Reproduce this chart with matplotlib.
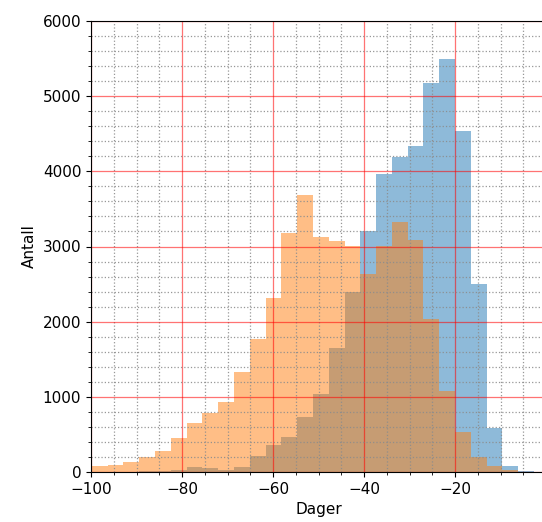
import numpy as np
import matplotlib
matplotlib.use("Agg")
import matplotlib.pyplot as plt
from matplotlib.ticker import MultipleLocator

# bin edges (shared)
bin_width = 3.47
bin_start = -99.8
n_bins = 28
edges = [bin_start + i * bin_width for i in range(n_bins + 1)]

blue_counts = [0, 0, 5, 10, 15, 25, 60, 50, 30, 60, 213, 360, 470, 735,
               1033, 1645, 2400, 3210, 3970, 4185, 4335, 5170, 5490, 4540,
               2495, 580, 80, 10]
orange_counts = [80, 90, 130, 200, 280, 453, 653, 787, 933, 1325, 1765,
                 2320, 3175, 3684, 3130, 3072, 3010, 2640, 3005, 3330, 3085,
                 2030, 1080, 537, 205, 80, 30, 0]

x_label = "Dager"
y_label = "Antall"

centers = [(edges[i] + edges[i + 1]) / 2 for i in range(n_bins)]

fig = plt.figure(figsize=(5.42, 5.22), dpi=100)
ax = fig.add_axes([91 / 542, 50 / 522, 455 / 542, 451 / 522])

ax.hist(centers, bins=edges, weights=blue_counts, alpha=0.5, color="C0")
ax.hist(centers, bins=edges, weights=orange_counts, alpha=0.5, color="C1")

ax.set_xlim(-100, 0)
ax.set_ylim(0, 6000)
ax.xaxis.set_major_locator(MultipleLocator(20))
ax.xaxis.set_minor_locator(MultipleLocator(5))
ax.yaxis.set_major_locator(MultipleLocator(1000))
ax.yaxis.set_minor_locator(MultipleLocator(200))

ax.grid(which="major", color="red", linestyle="-", linewidth=0.9, alpha=0.55)
ax.grid(which="minor", color="#8c8c8c", linestyle=":", linewidth=0.9, alpha=0.9)

ax.tick_params(labelsize=11)
ax.set_xlabel(x_label, fontsize=11)
ax.set_ylabel(y_label, fontsize=11)

fig.savefig("out.png", dpi=100)
